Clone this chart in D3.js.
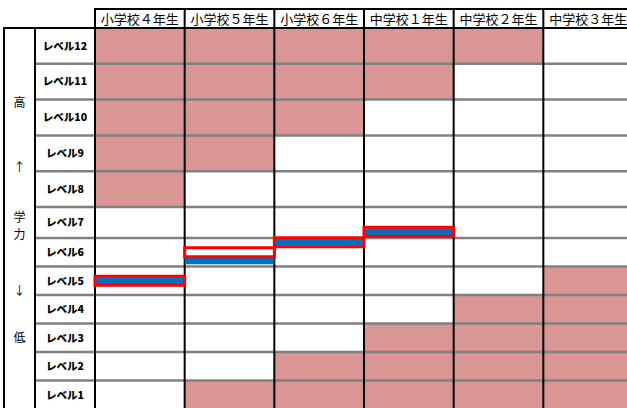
<!DOCTYPE html>
<html>
<head>
<meta charset="utf-8">
<script src="https://cdn.jsdelivr.net/npm/d3@7"></script>
<style>
    body { margin: 0; background: #fff; }
    svg { display: block; }
    text { font-family: "Noto Sans CJK JP", sans-serif; }
</style>
</head>
<body>
<svg id="chart" width="627" height="408"></svg>
<script>
// grades (columns) and levels (rows)
const grades = ['小学校４年生', '小学校５年生', '小学校６年生', '中学校１年生', '中学校２年生', '中学校３年生'];
const levels = [12, 11, 10, 9, 8, 7, 6, 5, 4, 3, 2, 1];

// shaded (pink) levels per grade
const shadedLevels = [
    [12, 11, 10, 9, 8],
    [12, 11, 10, 9, 1],
    [12, 11, 10, 2, 1],
    [12, 11, 3, 2, 1],
    [12, 4, 3, 2, 1],
    [5, 4, 3, 2, 1]
];

// red outline = expected level, blue bar = actual level
const expectedLevel = [5.0, 6.0, 6.35, 6.7, null, null];
const actualLevel = [5.0, 5.7, 6.35, 6.7, null, null];

// side caption
const sideChars = ['高', '↑', '学', '力', '↓', '低'];

const svg = d3.select('#chart');

const WIDTH = 627;
const HEADER_TOP = 9;
const BOX_LEFT = 4;
const LABEL_LEFT = 35;

const xScale = d3.scaleBand()
    .domain(grades)
    .range([95, 633]);

// rows 12-8 are taller than 7-1
const yScale = d3.scaleLinear()
    .domain([12.5, 7.5, 6.5, 0.5])
    .range([28, 207, 238, 409]);

// pink cells
const cells = [];
grades.forEach((g, i) => {
    shadedLevels[i].forEach(l => cells.push({grade: g, level: l}));
});
svg.append('g')
    .selectAll('rect')
    .data(cells)
    .join('rect')
    .attr('x', d => xScale(d.grade))
    .attr('y', d => yScale(d.level + 0.5))
    .attr('width', xScale.bandwidth())
    .attr('height', d => yScale(d.level - 0.5) - yScale(d.level + 0.5))
    .attr('fill', '#d99694');

// gray row lines
svg.append('g')
    .selectAll('line')
    .data(levels.slice(1))
    .join('line')
    .attr('x1', LABEL_LEFT)
    .attr('x2', WIDTH)
    .attr('y1', d => yScale(d + 0.5))
    .attr('y2', d => yScale(d + 0.5))
    .attr('stroke', '#808080')
    .attr('stroke-width', 2.5);

// black frame lines
const frame = svg.append('g').attr('stroke', '#000').attr('stroke-width', 2);
frame.append('line')
    .attr('x1', xScale(grades[0]) - 1).attr('x2', WIDTH)
    .attr('y1', HEADER_TOP).attr('y2', HEADER_TOP);
frame.append('line')
    .attr('x1', BOX_LEFT - 1).attr('x2', WIDTH)
    .attr('y1', yScale(12.5)).attr('y2', yScale(12.5));
frame.append('line')
    .attr('x1', BOX_LEFT).attr('x2', BOX_LEFT)
    .attr('y1', yScale(12.5)).attr('y2', 410);
frame.append('line')
    .attr('x1', LABEL_LEFT).attr('x2', LABEL_LEFT)
    .attr('y1', yScale(12.5)).attr('y2', 410);
frame.selectAll('.col')
    .data(grades)
    .join('line')
    .attr('class', 'col')
    .attr('x1', d => xScale(d))
    .attr('x2', d => xScale(d))
    .attr('y1', HEADER_TOP)
    .attr('y2', 410);

// header labels
svg.append('g')
    .selectAll('text')
    .data(grades)
    .join('text')
    .attr('x', d => xScale(d) + xScale.bandwidth() / 2)
    .attr('y', 24)
    .attr('text-anchor', 'middle')
    .attr('font-size', 13)
    .attr('fill', '#000')
    .text(d => d);

// row labels
svg.append('g')
    .selectAll('text')
    .data(levels)
    .join('text')
    .attr('x', (LABEL_LEFT + xScale(grades[0])) / 2)
    .attr('y', d => (yScale(d + 0.5) + yScale(d - 0.5)) / 2)
    .attr('dy', '0.36em')
    .attr('text-anchor', 'middle')
    .attr('font-size', 10.5)
    .attr('font-weight', 900)
    .attr('fill', '#000')
    .text(d => 'レベル' + d);

// side caption
const sideY = [102.5, 168, 218, 235, 291, 338];
svg.append('g')
    .selectAll('text')
    .data(sideChars)
    .join('text')
    .attr('x', (BOX_LEFT + LABEL_LEFT) / 2)
    .attr('y', (d, i) => sideY[i])
    .attr('dy', '0.36em')
    .attr('text-anchor', 'middle')
    .attr('font-size', 12)
    .attr('fill', '#000')
    .text(d => d);

// blue bars (actual)
const BLUE_H = 7;
svg.append('g')
    .selectAll('rect')
    .data(grades.map((g, i) => ({grade: g, value: actualLevel[i]})).filter(d => d.value != null))
    .join('rect')
    .attr('x', d => xScale(d.grade))
    .attr('y', d => yScale(d.value) - BLUE_H / 2)
    .attr('width', xScale.bandwidth())
    .attr('height', BLUE_H)
    .attr('fill', '#0070c0');

// red outlines (expected)
const RED_H = 9;
svg.append('g')
    .selectAll('rect')
    .data(grades.map((g, i) => ({grade: g, value: expectedLevel[i]})).filter(d => d.value != null))
    .join('rect')
    .attr('x', d => xScale(d.grade))
    .attr('y', d => yScale(d.value) - RED_H / 2)
    .attr('width', xScale.bandwidth())
    .attr('height', RED_H)
    .attr('fill', 'none')
    .attr('stroke', '#ff0000')
    .attr('stroke-width', 3);
</script>
</body>
</html>
